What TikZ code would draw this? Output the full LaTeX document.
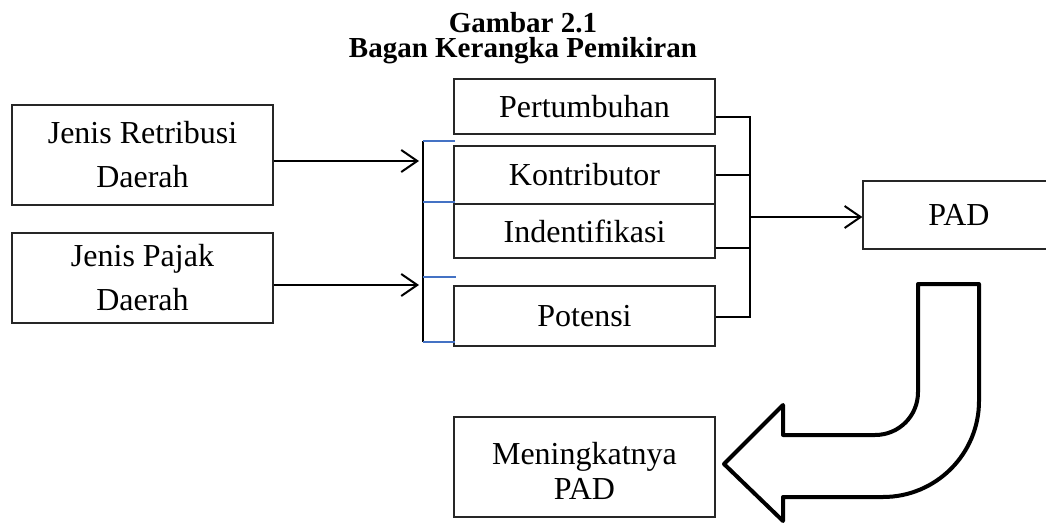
\documentclass[tikz,border=0pt]{standalone}
\usepackage{fontspec}
\setmainfont{Liberation Serif}
\usetikzlibrary{arrows.meta}
\definecolor{wordblue}{HTML}{4472C4}
\begin{document}
\begin{tikzpicture}[x=1pt,y=-1pt,
  box/.style={draw=black!85, line width=1.3pt, inner sep=0pt, align=center,
    font=\fontsize{32}{44}\selectfont},
  conn/.style={line width=2pt, black},
  arr/.style={conn, -{Straight Barb[length=16pt,width=22pt,line width=2pt]}},
  tick/.style={line width=1.5pt, wordblue},
  bigarrow/.style={line width=4pt, line join=round, black},
  ttl/.style={font=\bfseries\fontsize{29}{25}\selectfont, align=center, anchor=north, inner sep=0pt}]
\useasboundingbox (0,0) rectangle (1046,524);
\clip (0,0) rectangle (1046,524);
% title
\node[ttl] (title) at (523,12) {Gambar 2.1\\Bagan Kerangka Pemikiran};
% left boxes
\node[box, minimum width=261pt, minimum height=100pt] (ret) at (142.5,155) {Jenis Retribusi\\Daerah};
\node[box, minimum width=261pt, minimum height=90pt] (paj) at (142.5,278) {Jenis Pajak\\Daerah};
% middle boxes
\node[box, minimum width=261pt, minimum height=55pt] (per) at (584.5,106.5) {Pertumbuhan};
\node[box, minimum width=261pt, minimum height=58pt] (kon) at (584.5,175) {Kontributor};
\node[box, minimum width=261pt, minimum height=54pt] (ind) at (584.5,231) {Indentifikasi};
\node[box, minimum width=261pt, minimum height=60pt] (pot) at (584.5,316) {Potensi};
% PAD
\node[box, minimum width=192pt, minimum height=68pt] (pad) at (959,215) {\rule{0pt}{17pt}PAD};
\node[box, minimum width=261pt, minimum height=100pt, font=\fontsize{32}{35}\selectfont] (men) at (584.5,467) {\rule{0pt}{31pt}Meningkatnya\\PAD};
% bracket
\coordinate (bt) at (423,141);
\coordinate (bb) at (423,342);
\draw[line width=1.5pt, black] (bt) -- (bb);
\draw[tick] (bt) -- (455,141);
\draw[tick] (423,202) -- (455,202);
\draw[tick] (423,277) -- (456,277);
\draw[tick] (bb) -- (455,342);
% left arrows
\coordinate (b1) at (419,161);
\coordinate (b2) at (419,285);
\draw[arr] ([yshift=-6pt]ret.east) -- (b1);
\draw[arr] ([yshift=-7pt]paj.east) -- (b2);
% right connectors
\coordinate (jt) at (750,117);
\coordinate (jb) at (750,317);
\coordinate (jm) at (750,217);
\coordinate (pe) at ([yshift=-10.5pt]per.east);
\coordinate (ie) at ([yshift=-17pt]ind.east);
\coordinate (pte) at ([yshift=-1pt]pot.east);
\draw[conn] (pe) -- (jt) -- (jb) -- (pte);
\draw[conn] (kon.east) -- (kon.east -| jt);
\draw[conn] (ie) -- (ie -| jt);
\draw[arr] (jm) -- (jm -| pad.west);
% big curved arrow
\draw[bigarrow] (918,284) -- (979,284) -- (979,401)
  .. controls (979,454) and (936,497) .. (883,497) -- (783,497) -- (783,521)
  -- (724,464) -- (783,405) -- (783,435) -- (875,435)
  .. controls (899,435) and (918,416) .. (918,392) -- cycle;
\end{tikzpicture}
\end{document}
